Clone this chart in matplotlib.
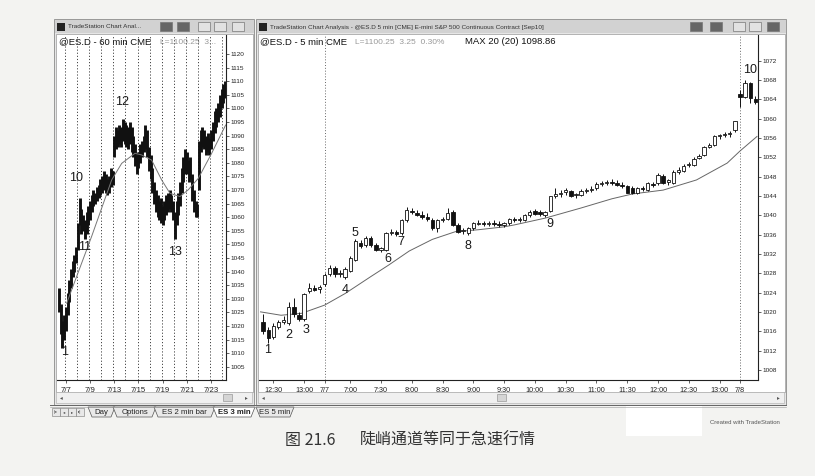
import matplotlib
matplotlib.use("Agg")
import matplotlib.pyplot as plt
from matplotlib.patches import Rectangle, Polygon

plt.rcParams['font.family'] = ['Liberation Sans', 'DejaVu Sans']

# ---------------- 60 min chart (left window), 7 bars a day ----------------
# 7/6 tail (4 bars), 7/7 .. 7/23 (13 days), 7/26 open (2 bars)
hourly_high = [1034, 1028, 1022, 1024,
               1027, 1032, 1037, 1041, 1044, 1046, 1049,
               1058, 1067, 1063, 1061, 1059, 1062, 1064,
               1066, 1068, 1070, 1069, 1071, 1072, 1074,
               1075, 1077, 1076, 1074, 1075, 1078, 1077,
               1090, 1093, 1092, 1094, 1093, 1096, 1095,
               1094, 1093, 1095, 1093, 1090, 1087, 1083,
               1084, 1087, 1088, 1090, 1094, 1092, 1086,
               1083, 1078, 1073, 1070, 1068, 1066, 1067,
               1064, 1066, 1068, 1069, 1070, 1068, 1066,
               1062, 1066, 1069, 1073, 1078, 1082, 1085,
               1084, 1081, 1082, 1076, 1070, 1066, 1065,
               1088, 1092, 1093, 1092, 1090, 1091, 1089,
               1092, 1095, 1099, 1100, 1102, 1105, 1107,
               1109, 1110]
hourly_low = [1025, 1017, 1012, 1015,
              1018, 1024, 1029, 1034, 1038, 1040, 1043,
              1048, 1057, 1054, 1055, 1052, 1054, 1057,
              1059, 1062, 1064, 1065, 1066, 1067, 1068,
              1069, 1070, 1069, 1068, 1069, 1071, 1072,
              1082, 1085, 1086, 1087, 1086, 1088, 1087,
              1086, 1085, 1087, 1084, 1082, 1079, 1076,
              1078, 1080, 1082, 1084, 1085, 1082, 1077,
              1074, 1069, 1065, 1062, 1060, 1059, 1058,
              1057, 1059, 1061, 1062, 1063, 1062, 1059,
              1052, 1057, 1061, 1064, 1069, 1073, 1076,
              1076, 1073, 1074, 1066, 1062, 1060, 1060,
              1070, 1084, 1086, 1085, 1083, 1084, 1083,
              1085, 1088, 1091, 1093, 1095, 1097, 1100,
              1102, 1104]
hourly_ma_bar = [4.5, 18.9, 30.5, 36.3, 44, 47.8, 53.6, 59.4, 64.2, 70, 74.8, 80.6, 88.3, 96.4]
hourly_ma = [1028.4, 1052.9, 1073.7, 1079.8, 1083.5, 1082.9, 1081.0, 1073.7,
             1068.8, 1067.6, 1070.1, 1074.3, 1083.5, 1093.9]
day_labels = ['7/7', '7/9', '7/13', '7/15', '7/19', '7/21', '7/23']
day_label_bar = [4, 18, 32, 46, 60, 74, 88]
day_break_bar = [3.5, 10.5, 17.5, 24.5, 31.5, 38.5, 45.5, 52.5, 59.5, 66.5, 73.5, 80.5, 87.5, 94.5]
hourly_price_ticks = list(range(1005, 1121, 5))
hourly_marks = ['1', '10', '11', '12', '13']
hourly_mark_bar = [3.5, 10.2, 15.1, 36.3, 67.1]
hourly_mark_price = [1010.6, 1074.3, 1049.2, 1102.5, 1047.3]

# ---------------- 5 min chart (right window) ----------------
# 7/6 12:20-13:15 (12 bars), 7/7 6:35-13:15 (81 bars), 7/8 6:35-6:50 (4 bars)
five_open = [1018.0, 1016.3, 1014.8, 1016.8, 1017.9, 1017.6, 1021.0, 1019.4, 1018.6, 1024.3, 1025.0, 1024.7,
             1025.8, 1027.8, 1029.0, 1027.8, 1027.3, 1028.5, 1030.8, 1034.2, 1033.8, 1035.2, 1033.8, 1032.9,
             1032.8, 1036.3, 1036.5, 1036.3, 1039.0, 1040.9, 1040.5, 1040.1, 1039.6, 1039.1, 1037.3, 1039.0,
             1039.2, 1040.7, 1038.0, 1036.7, 1036.4, 1037.3, 1038.2, 1038.3, 1038.1, 1038.4, 1038.2, 1037.9,
             1038.3, 1039.2, 1039.0, 1039.1, 1040.0, 1040.9, 1040.6, 1040.1, 1040.8, 1044.0, 1044.4, 1044.8,
             1045.0, 1044.1, 1044.2, 1045.0, 1045.2, 1045.6, 1046.5, 1046.6, 1046.9, 1046.7, 1046.3, 1046.0,
             1045.6, 1044.6, 1045.5, 1045.3, 1046.5, 1046.6, 1048.2, 1046.8, 1046.6, 1049.0, 1049.2, 1050.3,
             1050.4, 1051.8, 1052.5, 1054.2, 1054.6, 1056.3, 1056.6, 1056.8, 1057.6,
             1065.0, 1064.5, 1067.3, 1064.0]
five_high = [1019.5, 1016.8, 1017.8, 1018.3, 1019.2, 1022.0, 1022.8, 1019.9, 1024.0, 1025.9, 1025.6, 1025.5,
             1028.0, 1029.7, 1029.4, 1028.6, 1029.2, 1031.5, 1035.0, 1034.8, 1035.8, 1035.6, 1034.2, 1033.5,
             1036.6, 1037.2, 1036.9, 1039.3, 1041.8, 1041.4, 1041.0, 1040.8, 1040.5, 1039.4, 1039.3, 1039.7,
             1041.4, 1041.0, 1038.3, 1037.4, 1037.6, 1038.6, 1039.0, 1038.9, 1038.9, 1039.0, 1038.8, 1038.6,
             1039.5, 1039.6, 1039.6, 1040.3, 1041.0, 1041.3, 1041.1, 1040.9, 1044.0, 1045.6, 1045.2, 1045.6,
             1045.3, 1044.5, 1045.4, 1045.6, 1046.1, 1046.9, 1047.0, 1047.3, 1047.4, 1047.2, 1046.8, 1046.3,
             1046.0, 1045.9, 1046.0, 1046.8, 1046.9, 1048.7, 1048.5, 1047.6, 1049.4, 1049.9, 1050.6, 1051.0,
             1052.0, 1052.6, 1054.4, 1055.0, 1056.6, 1056.9, 1057.3, 1057.5, 1059.6,
             1066.0, 1068.0, 1067.6, 1064.6]
five_low = [1015.5, 1013.5, 1014.3, 1016.4, 1017.4, 1017.3, 1019.0, 1018.2, 1018.2, 1024.0, 1024.3, 1024.0,
            1025.3, 1027.5, 1027.3, 1027.2, 1026.8, 1028.2, 1030.5, 1033.2, 1033.5, 1033.4, 1032.6, 1032.3,
            1032.5, 1035.9, 1035.6, 1036.0, 1038.7, 1040.2, 1039.8, 1039.3, 1038.9, 1037.0, 1036.6, 1038.6,
            1039.0, 1037.8, 1036.3, 1036.1, 1036.0, 1037.0, 1037.9, 1037.8, 1037.7, 1037.8, 1037.6, 1037.5,
            1038.0, 1038.6, 1038.5, 1038.9, 1039.6, 1040.0, 1039.9, 1039.6, 1040.6, 1043.5, 1043.8, 1044.2,
            1043.8, 1043.6, 1043.9, 1044.5, 1044.8, 1045.3, 1046.0, 1046.2, 1046.3, 1046.0, 1045.7, 1044.5,
            1044.4, 1044.3, 1045.0, 1045.0, 1045.8, 1046.3, 1046.4, 1046.3, 1046.4, 1048.6, 1048.9, 1050.0,
            1050.1, 1051.6, 1052.2, 1053.9, 1054.3, 1055.8, 1056.1, 1056.2, 1057.3,
            1062.3, 1064.2, 1063.2, 1063.0]
five_close = [1016.0, 1014.6, 1017.0, 1017.8, 1018.3, 1021.0, 1019.5, 1018.6, 1023.8, 1025.0, 1024.6, 1025.1,
              1027.6, 1029.0, 1027.8, 1028.1, 1028.8, 1031.1, 1034.6, 1033.7, 1035.2, 1033.8, 1032.9, 1033.0,
              1036.3, 1036.6, 1036.2, 1039.0, 1041.1, 1040.6, 1040.1, 1039.6, 1039.2, 1037.3, 1039.0, 1039.2,
              1040.4, 1038.0, 1036.6, 1036.9, 1037.3, 1038.3, 1038.4, 1038.1, 1038.4, 1038.2, 1037.9, 1038.3,
              1039.2, 1039.0, 1039.1, 1040.0, 1040.7, 1040.3, 1040.2, 1040.6, 1043.9, 1044.4, 1044.6, 1045.3,
              1044.0, 1044.2, 1045.1, 1045.2, 1045.4, 1046.5, 1046.6, 1046.9, 1046.7, 1046.3, 1046.0, 1044.7,
              1044.6, 1045.6, 1045.4, 1046.6, 1046.2, 1048.4, 1046.7, 1047.2, 1049.0, 1049.4, 1050.1, 1050.6,
              1051.7, 1052.3, 1054.1, 1054.6, 1056.3, 1056.6, 1056.8, 1057.0, 1059.4,
              1064.4, 1067.3, 1064.2, 1063.5]
five_ma_bar = [-0.5, 3.5, 7.5, 12, 16, 21, 24.5, 28.5, 33, 37.5, 42, 47, 49, 55, 62, 68, 72, 78,
               84.5, 90.5, 93, 96.3]
five_ma = [1020.0, 1019.3, 1019.7, 1021.4, 1023.8, 1027.3, 1029.7, 1032.6, 1035.0, 1036.6, 1037.0,
           1037.6, 1038.0, 1039.4, 1041.5, 1043.4, 1044.4, 1045.2, 1047.3, 1050.8, 1053.3, 1056.3]
time_labels = ['12:30', '13:00', '7/7', '7:00', '7:30', '8:00', '8:30', '9:00', '9:30', '10:00',
               '10:30', '11:00', '11:30', '12:00', '12:30', '13:00', '7/8']
time_label_bar = [2, 8, 12, 17, 23, 29, 35, 41, 47, 53, 59, 65, 71, 77, 83, 89, 93]
session_bar = [12, 93]
five_price_ticks = list(range(1008, 1073, 4))
five_marks = ['1', '2', '3', '4', '5', '6', '7', '8', '9', '10']
five_mark_bar = [0.95, 5.05, 8.4, 16.0, 17.9, 24.4, 26.9, 39.9, 56.0, 95.0]
five_mark_price = [1012.1, 1015.2, 1016.2, 1024.5, 1036.3, 1030.9, 1034.4, 1033.6, 1038.1, 1070.0]

W, H = 815, 476
fig = plt.figure(figsize=(W / 100, H / 100), dpi=100)
fig.patch.set_facecolor('#f3f3f1')

bg = fig.add_axes([0, 0, 1, 1])
bg.set_xlim(0, W)
bg.set_ylim(H, 0)
bg.axis('off')


def px_axes(x0, y0, x1, y1):
    return fig.add_axes([x0 / W, 1 - y1 / H, (x1 - x0) / W, (y1 - y0) / H])


def window(x0, x1, title, buttons):
    bg.add_patch(Rectangle((x0, 19), x1 - x0, 386, fc='#e6e6e6', ec='#8a8a8a', lw=0.6))
    bg.add_patch(Rectangle((x0 + 0.5, 19.5), x1 - x0 - 1, 13.5, fc='#d2d2d2', ec='none'))
    bg.add_patch(Rectangle((x0 + 3, 22.5), 8, 8, fc='#222', ec='none'))
    bg.text(x0 + 14, 27, title, fontsize=4.6, color='#333', va='center')
    for bx, dark in buttons:
        bg.add_patch(Rectangle((bx, 22), 12, 9, fc='#666' if dark else '#e2e2e2', ec='#777', lw=0.5))
    bg.add_patch(Rectangle((x0 + 1.5, 34), x1 - x0 - 3, 358, fc='white', ec='#999', lw=0.5))


window(54, 254, 'TradeStation Chart Anal...',
       [(160, True), (177, True), (198, False), (214, False), (232, False)])
window(256, 786, 'TradeStation Chart Analysis - @ES.D 5 min [CME] E-mini S&P 500 Continuous Contract [Sep10]',
       [(690, True), (710, True), (733, False), (749, False), (767, True)])

# scroll bars
for x0, x1, thumb in [(56, 252, 223), (258, 784, 497)]:
    bg.add_patch(Rectangle((x0, 392), x1 - x0, 11, fc='#f0f0f0', ec='#aaa', lw=0.4))
    bg.text(x0 + 4, 397.5, '◂', fontsize=4, color='#555', va='center')
    bg.text(x1 - 7, 397.5, '▸', fontsize=4, color='#555', va='center')
    bg.add_patch(Rectangle((thumb, 394), 9, 7, fc='#d5d5d5', ec='#888', lw=0.4))

# tab bar
bg.plot([50, 786], [405, 405], color='#666', lw=0.7)
bg.plot([50, 786], [407, 407], color='#999', lw=0.4)
for k, g in enumerate(['|◂', '◂', '▸', '▸|']):
    bx = 52 + k * 8
    bg.add_patch(Rectangle((bx, 408), 7.5, 8, fc='#e8e8e8', ec='#777', lw=0.4))
    bg.text(bx + 3.7, 412, g, fontsize=3.2, ha='center', va='center', color='#444')
tabs = [('Day', 88, 115, False), ('Options', 113, 156, False), ('ES 2 min bar', 154, 215, False),
        ('ES 3 min', 213, 255, True), ('ES 5 min', 256, 294, False)]
for name, tx0, tx1, active in tabs:
    bg.add_patch(Polygon([(tx0, 407), (tx0 + 4, 417), (tx1 - 4, 417), (tx1, 407)],
                         closed=True, fc='white' if active else '#e9e9e9', ec='#555', lw=0.5))
    bg.text((tx0 + tx1) / 2, 412.5, name, fontsize=5.6, ha='center', va='center',
            color='#222', fontweight='bold' if active else 'normal')

# headers inside the charts
bg.text(59, 42, '@ES.D - 60 min CME', fontsize=6.8, color='#111', va='center')
bg.text(160, 42, 'L=1100.25  3...', fontsize=6.0, color='#999', va='center')
bg.text(260, 42, '@ES.D - 5 min CME', fontsize=6.8, color='#111', va='center')
bg.text(355, 42, 'L=1100.25  3.25  0.30%', fontsize=6.0, color='#999', va='center')
bg.text(465, 42, 'MAX 20 (20) 1098.86', fontsize=6.8, color='#111', va='center')


def style_axes(ax):
    ax.set_facecolor('none')
    for s in ['left', 'top']:
        ax.spines[s].set_visible(False)
    for s in ['right', 'bottom']:
        ax.spines[s].set_color('#222')
        ax.spines[s].set_linewidth(0.8)
    ax.yaxis.tick_right()
    ax.tick_params(axis='y', length=2, width=0.5, pad=1.5, labelsize=4.6, colors='#222')
    ax.tick_params(axis='x', length=2, width=0.5, pad=3, colors='#222')


# ---- left chart ----
ax1 = px_axes(57, 35, 226, 380)
style_axes(ax1)
ax1.set_xlim(-1.1, 96.6)
ax1.set_ylim(1000.15, 1127.0)
for b in day_break_bar:
    ax1.axvline(b, color='#444', lw=0.7, ls=(0, (1.2, 2.0)), zorder=1)
bars = list(range(len(hourly_high)))
ax1.vlines(bars, hourly_low, hourly_high, color='#111', lw=2.1, zorder=3)
ax1.plot(hourly_ma_bar, hourly_ma, color='#777', lw=0.7, zorder=4)
ax1.set_yticks(hourly_price_ticks)
ax1.set_xticks(day_label_bar)
ax1.set_xticklabels(day_labels, fontsize=5.6)
for t, b, p in zip(hourly_marks, hourly_mark_bar, hourly_mark_price):
    ax1.text(b, p, t, fontsize=9, ha='center', va='center', color='#1a1a1a', zorder=5)

# ---- right chart ----
ax2 = px_axes(259, 35, 758, 380)
style_axes(ax2)
ax2.set_xlim(-0.8, 96.5)
ax2.set_ylim(1005.9, 1077.3)
for b in session_bar:
    ax2.axvline(b, color='#555', lw=0.6, ls=(0, (1.2, 2.2)), zorder=1)
idx = list(range(len(five_open)))
ax2.vlines(idx, five_low, five_high, color='#111', lw=0.7, zorder=3)
body_bottom = [min(o, c) for o, c in zip(five_open, five_close)]
body_height = [max(abs(c - o), 0.25) for o, c in zip(five_open, five_close)]
body_color = ['white' if c >= o else '#111' for o, c in zip(five_open, five_close)]
ax2.bar(idx, body_height, bottom=body_bottom, width=0.66, color=body_color,
        edgecolor='#111', linewidth=0.6, zorder=4)
ax2.plot(five_ma_bar, five_ma, color='#666', lw=0.7, zorder=2)
ax2.set_yticks(five_price_ticks)
ax2.set_xticks(time_label_bar)
ax2.set_xticklabels(time_labels, fontsize=5.2)
for t, b, p in zip(five_marks, five_mark_bar, five_mark_price):
    ax2.text(b, p, t, fontsize=9, ha='center', va='center', color='#1a1a1a', zorder=5)

# watermark patch and caption
bg.add_patch(Rectangle((626, 406), 76, 30, fc='white', ec='none'))
bg.text(745, 423, 'Created with TradeStation', fontsize=4.3, color='#555', ha='center', va='center')
bg.text(285, 440, '图 21.6', fontsize=11.5, color='#333', va='center',
        family=['Noto Sans CJK SC', 'DejaVu Sans'])
bg.text(360, 440, '陡峭通道等同于急速行情', fontsize=11.5, color='#333', va='center',
        family=['Noto Sans CJK SC', 'DejaVu Sans'])

fig.savefig('out.png', dpi=100, facecolor=fig.get_facecolor())
